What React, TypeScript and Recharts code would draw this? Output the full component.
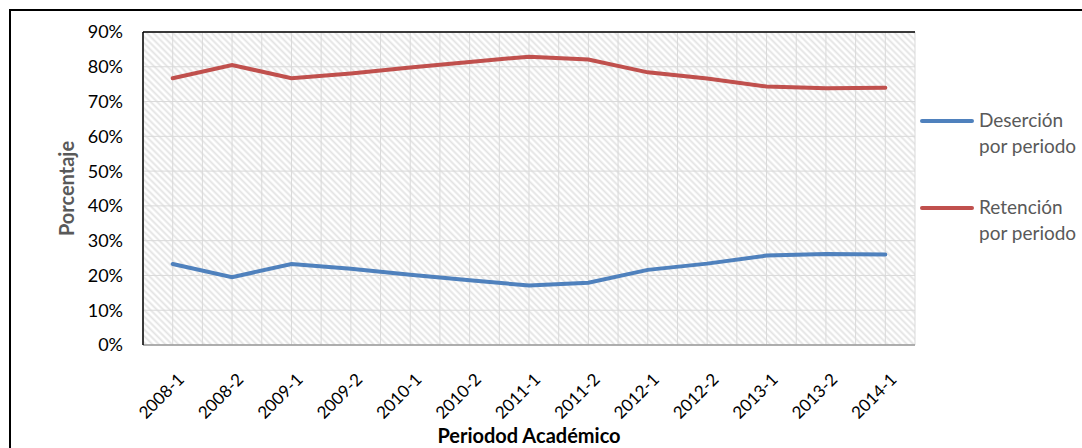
import React from "react";
import {
  LineChart,
  Line,
  XAxis,
  YAxis,
  CartesianGrid,
  ReferenceLine,
} from "recharts";

const periods = [
  "2008-1", "2008-2", "2009-1", "2009-2", "2010-1", "2010-2", "2011-1",
  "2011-2", "2012-1", "2012-2", "2013-1", "2013-2", "2014-1",
];
const desercion = [23.3, 19.5, 23.3, 21.9, 20.2, 18.6, 17.1, 17.9, 21.6, 23.4, 25.7, 26.2, 26.0];
const retencion = [76.7, 80.5, 76.7, 78.1, 79.8, 81.4, 82.9, 82.1, 78.4, 76.6, 74.3, 73.8, 74.0];
const yTicks = [0, 10, 20, 30, 40, 50, 60, 70, 80, 90];

const series = [
  { key: "desercion", label: ["Deserción", "por periodo"], color: "#4F81BD" },
  { key: "retencion", label: ["Retención", "por periodo"], color: "#C0504D" },
];

const data = periods.map((p, i) => ({
  periodo: p,
  desercion: desercion[i],
  retencion: retencion[i],
}));

// half-category grid: 2 gridlines per period
const gridSteps = periods.length * 2;

const FONT = "Lato, 'Open Sans', sans-serif";

const App = () => {
  return (
    <div
      style={{
        position: "fixed",
        left: 0,
        top: 0,
        width: 1082,
        height: 448,
        background: "#fff",
        fontFamily: FONT,
        overflow: "hidden",
      }}
    >
      <LineChart
        width={1082}
        height={448}
        data={data}
        margin={{ top: 32, right: 167, bottom: 0, left: 0 }}
      >
        <defs>
          <pattern
            id="hatch"
            width="4.6"
            height="4.6"
            patternUnits="userSpaceOnUse"
            patternTransform="rotate(45)"
          >
            <rect width="4.6" height="4.6" fill="#fff" />
            <line x1="0" y1="2.3" x2="4.6" y2="2.3" stroke="#e3e3e3" strokeWidth="1.8" />
          </pattern>
        </defs>
        <CartesianGrid
          fill="url(#hatch)"
          fillOpacity={1}
          stroke="#d9d9d9"
          strokeWidth={1}
          verticalCoordinatesGenerator={({ offset }: any) =>
            Array.from({ length: gridSteps + 1 }, (_, i) => offset.left + (i * offset.width) / gridSteps)
          }
        />
        <XAxis
          dataKey="periodo"
          scale="band"
          height={103}
          tickLine={false}
          tickSize={0}
          tickMargin={27}
          angle={-45}
          textAnchor="end"
          interval={0}
          axisLine={{ stroke: "#9a9a9a", strokeWidth: 1.5 }}
          tick={{ fill: "#000", fontSize: 17, fontFamily: FONT, dx: 4 }}
          label={{
            content: ({ viewBox }: any) => (
              <text
                x={viewBox.x + viewBox.width / 2}
                y={viewBox.y + viewBox.height - 5}
                textAnchor="middle"
                fontSize={20}
                fontWeight="bold"
                fill="#000"
                fontFamily={FONT}
              >
                Periodod Académico
              </text>
            ),
          }}
        />
        <XAxis xAxisId="grid" type="number" domain={[0, gridSteps]} hide />
        <YAxis
          width={143}
          domain={[0, 90]}
          ticks={yTicks}
          tickFormatter={(v) => `${v}%`}
          tickLine={false}
          tickSize={0}
          tickMargin={20}
          axisLine={{ stroke: "#000", strokeWidth: 1.5 }}
          tick={{ fill: "#000", fontSize: 18, fontFamily: FONT }}
          label={{
            content: ({ viewBox }: any) => {
              const cy = viewBox.y + viewBox.height / 2;
              return (
                <text
                  x={66}
                  y={cy}
                  transform={`rotate(-90, 66, ${cy})`}
                  textAnchor="middle"
                  dominantBaseline="central"
                  fontSize={20}
                  fontWeight="bold"
                  fill="#595959"
                  fontFamily={FONT}
                >
                  Porcentaje
                </text>
              );
            },
          }}
        />
        <ReferenceLine y={90} stroke="#000" strokeWidth={1.5} />
        <ReferenceLine xAxisId="grid" x={gridSteps} stroke="#000" strokeWidth={1.5} />
        {series.map((s) => (
          <Line
            key={s.key}
            dataKey={s.key}
            stroke={s.color}
            strokeWidth={4}
            dot={false}
            activeDot={false}
            isAnimationActive={false}
            strokeLinecap="round"
          />
        ))}
      </LineChart>

      {/* legend */}
      <div style={{ position: "absolute", left: 920, top: 107 }}>
        {series.map((s) => (
          <div key={s.key} style={{ display: "flex", height: 87 }}>
            <div
              style={{
                width: 54,
                height: 4,
                marginTop: 12,
                background: s.color,
                borderRadius: 2,
              }}
            />
            <div
              style={{
                marginLeft: 5,
                fontSize: 19,
                lineHeight: "26px",
                color: "#595959",
                whiteSpace: "nowrap",
              }}
            >
              {s.label.map((t) => (
                <div key={t}>{t}</div>
              ))}
            </div>
          </div>
        ))}
      </div>

      {/* outer chart border */}
      <div
        style={{
          position: "absolute",
          left: 9,
          top: 9,
          width: 1200,
          height: 600,
          border: "2px solid #000",
          pointerEvents: "none",
        }}
      />
    </div>
  );
};

export default App;
